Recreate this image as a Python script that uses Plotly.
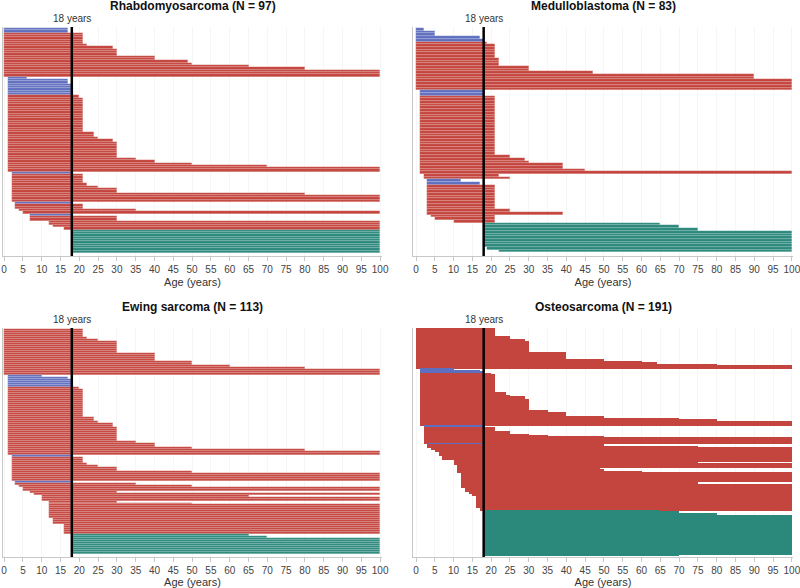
import numpy as np
import plotly.graph_objects as go

# Trials listed top to bottom as runs: min age, max age, number of trials in the run

rhabdo_lo = [0, 0, 0, 0, 0, 0, 0, 0, 0, 0, 0,
             1, 1, 1, 1, 1, 1, 1, 1, 1, 1, 1, 1, 1, 1,
             2, 2, 2, 2, 2, 2, 2,
             3, 3, 4, 5, 7, 7, 12, 13, 16,
             18]
rhabdo_hi = [17, 21, 22, 29, 30, 40, 49, 50, 65, 80, 100,
             6, 17, 18, 20, 21, 24, 25, 29, 30, 35, 40, 50, 70, 100,
             18, 21, 22, 25, 30, 80, 100,
             18, 21, 35, 100, 18, 30, 100, 100, 100,
             100]
rhabdo_n = [2, 5, 1, 1, 3, 2, 1, 1, 1, 1, 3,
            1, 2, 5, 1, 15, 2, 1, 1, 7, 1, 1, 1, 1, 2,
            1, 4, 1, 1, 2, 1, 3,
            1, 2, 1, 1, 1, 2, 2, 1, 1,
            10]

medullo_lo = [0, 0, 0, 0, 0, 0, 0, 0, 0, 0, 0,
              1, 1, 1, 1, 1, 1, 1, 1,
              2, 2, 3, 3, 3, 3, 3, 4, 5, 10,
              18, 18, 18, 18, 19, 22]
medullo_hi = [2, 5, 17, 18, 19, 21, 22, 30, 47, 90, 100,
              18, 21, 25, 29, 30, 39, 45, 100,
              22, 25, 12, 17, 21, 25, 39, 21, 21, 21,
              65, 70, 75, 100, 100, 100]
medullo_n = [1, 2, 1, 1, 1, 5, 3, 2, 1, 2, 4,
             2, 22, 1, 1, 1, 2, 1, 1,
             1, 1, 1, 1, 9, 1, 1, 1, 1, 1,
             1, 1, 1, 6, 1, 1]

ewing_lo = [0, 0, 0, 0, 0, 0, 0, 0, 0,
            1, 1, 1, 1, 1, 1, 1, 1, 1, 1, 1, 1, 1, 1,
            2, 2, 2, 2, 2, 2, 2,
            3, 3, 4, 5, 7, 8, 10, 10, 12, 12, 12, 13, 16,
            18, 18, 18]
ewing_hi = [21, 22, 25, 30, 40, 50, 60, 80, 100,
            10, 17, 18, 20, 21, 24, 25, 29, 30, 35, 40, 50, 80, 100,
            18, 21, 22, 25, 30, 50, 100,
            18, 35, 50, 100, 30, 100, 65, 100, 30, 50, 100, 100, 100,
            65, 70, 100]
ewing_n = [4, 1, 1, 6, 4, 2, 1, 1, 3,
           1, 1, 4, 1, 14, 2, 1, 2, 7, 1, 2, 1, 1, 2,
           1, 3, 1, 1, 2, 1, 4,
           1, 1, 1, 2, 1, 1, 1, 2, 1, 1, 7, 3, 5,
           1, 1, 8]

osteo_lo = [0, 0, 0, 0, 0, 0, 0, 0, 0, 0,
            1, 1, 1, 1, 1, 1, 1, 1, 1, 1, 1, 1, 1, 1, 1,
            2, 2, 2, 2, 2, 2, 2,
            3, 3, 3, 4, 5, 5, 6, 6, 6, 7, 7,
            10, 10, 10, 10, 11, 11, 11, 11, 11,
            12, 12, 12, 12, 12, 13, 14, 15, 16, 16, 17,
            18, 18, 18, 18, 18]
osteo_hi = [21, 25, 29, 30, 40, 50, 60, 64, 80, 100,
            10, 17, 18, 20, 21, 24, 25, 29, 30, 35, 40, 50, 70, 80, 100,
            18, 21, 25, 30, 35, 50, 100,
            18, 50, 75, 100, 50, 100, 100, 30, 100, 40, 100,
            100, 65, 75, 100, 100, 30, 49, 50, 60,
            100, 70, 75, 100, 65, 100, 100, 100, 100, 65, 100,
            65, 70, 80, 100, 70]
osteo_n = [7, 2, 2, 9, 6, 2, 1, 1, 1, 3,
           1, 1, 2, 1, 15, 2, 1, 3, 9, 2, 3, 2, 1, 1, 4,
           1, 4, 2, 1, 1, 1, 5,
           1, 1, 1, 2, 1, 1, 1, 1, 1, 1, 2,
           2, 1, 1, 1, 2, 1, 1, 1, 1,
           8, 1, 1, 2, 1, 3, 2, 2, 9, 1, 2,
           1, 2, 1, 33, 1]

panels = [
    ("Rhabdomyosarcoma (N = 97)", rhabdo_lo, rhabdo_hi, rhabdo_n),
    ("Medulloblastoma (N = 83)", medullo_lo, medullo_hi, medullo_n),
    ("Ewing sarcoma (N = 113)", ewing_lo, ewing_hi, ewing_n),
    ("Osteosarcoma (N = 191)", osteo_lo, osteo_hi, osteo_n),
]

W, H = 800, 588
# pixel boxes of each plot area: left, right, top, bottom
boxes = [(3, 382, 27, 256), (413, 793, 27, 256),
         (3, 382, 328, 557), (413, 793, 328, 557)]
xranges = [[-0.3, 100.5], [-0.8, 100.3], [-0.3, 100.5], [-0.8, 100.3]]
title_y = [6, 6, 307, 307]

BLUE = "#5f6fbf"
RED = "#c4453e"
TEAL = "#2b897c"

fig = go.Figure()
annotations = []
shapes = []
layout = {}

for i, (title, lo, hi, n) in enumerate(panels):
    k = "" if i == 0 else str(i + 1)
    lo_all = np.repeat(lo, n).astype(float)
    hi_all = np.repeat(hi, n).astype(float)
    colors = [BLUE if b <= 18 else (TEAL if a >= 18 else RED) for a, b in zip(lo_all, hi_all)]
    N = len(lo_all)
    l, r, t, b = boxes[i]
    px_per_bar = (b - t) / N
    lw = 0.5 if px_per_bar > 1.8 else 0

    fig.add_trace(go.Bar(
        y=np.arange(N), x=hi_all - lo_all, base=lo_all,
        orientation="h", width=1,
        marker=dict(color=colors, line=dict(color="rgba(255,255,255,0.3)", width=lw)),
        xaxis="x" + k, yaxis="y" + k, showlegend=False,
        hovertemplate="%{base} - %{x}<extra></extra>",
    ))

    layout["xaxis" + k] = dict(
        domain=[l / W, r / W], range=xranges[i], anchor="y" + k, automargin=False,
        dtick=5, tick0=0, showline=True, linecolor="#c8c8c8", linewidth=1,
        ticks="outside", ticklen=4, tickcolor="#c8c8c8", ticklabeloverflow="allow",
        showgrid=True, gridcolor="#f6f6f6", zeroline=False,
        tickfont=dict(size=10, color="#444"),
        title=dict(text="Age (years)", font=dict(size=11, color="#333"), standoff=4),
    )
    layout["yaxis" + k] = dict(
        domain=[1 - b / H, 1 - t / H], range=[N + 0.8, -0.9], anchor="x" + k, automargin=False,
        showline=True, linecolor="#c8c8c8", linewidth=1,
        showticklabels=False, showgrid=False, zeroline=False, ticks="",
    )

    shapes.append(dict(type="line", xref="x" + k, yref="y" + k + " domain",
                       x0=18, x1=18, y0=0, y1=1, line=dict(color="black", width=2.5)))
    annotations.append(dict(xref="x" + k, yref="y" + k + " domain", x=18, y=1,
                            xanchor="center", yanchor="bottom", yshift=1, showarrow=False,
                            text="18 years", font=dict(size=10, color="#333")))
    annotations.append(dict(xref="paper", yref="paper", x=(l + r) / 2 / W,
                            y=1 - title_y[i] / H, xanchor="center", yanchor="middle",
                            showarrow=False, text="<b>" + title + "</b>",
                            font=dict(size=12, color="#111")))

fig.update_layout(
    width=W, height=H,
    margin=dict(l=0, r=0, t=0, b=0, autoexpand=False),
    paper_bgcolor="white", plot_bgcolor="white",
    font=dict(family="Liberation Sans, Arial, sans-serif"),
    barmode="overlay", bargap=0,
    shapes=shapes, annotations=annotations,
    **layout,
)

fig.write_html("out.html", config={"displayModeBar": False},
               post_script="document.body.style.margin='0';document.body.style.overflow='hidden';")
